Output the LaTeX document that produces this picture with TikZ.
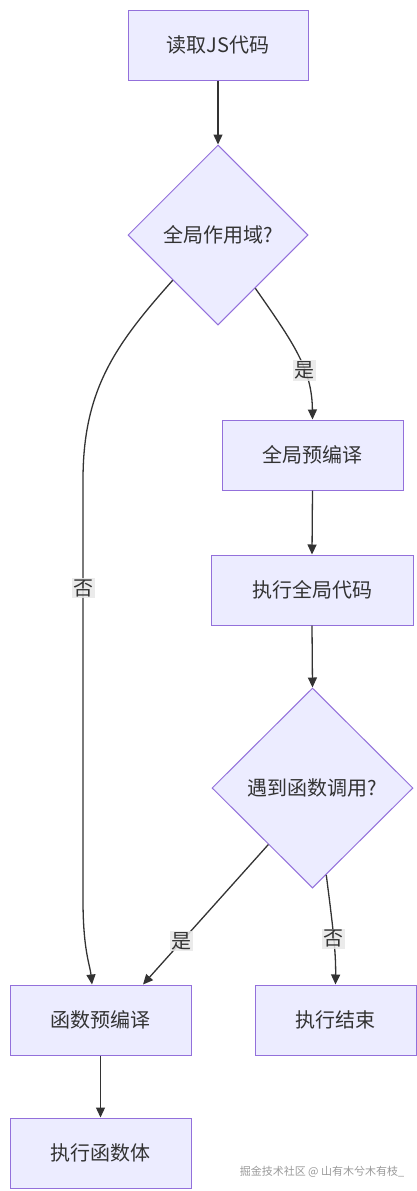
\documentclass[tikz,border=0pt]{standalone}
\usepackage{fontspec}
\setmainfont{Noto Sans CJK SC}
\usetikzlibrary{shapes.geometric,arrows.meta}
\definecolor{nodefill}{HTML}{ECECFF}
\definecolor{nodeborder}{HTML}{9370DB}
\definecolor{edgecol}{HTML}{333333}
\definecolor{lblbg}{HTML}{E8E8E8}
\tikzset{
  box/.style={draw=nodeborder, fill=nodefill, line width=1pt, rectangle, minimum height=70pt, inner sep=0pt, text=edgecol, font=\fontsize{20pt}{22pt}\selectfont},
  decision/.style={draw=nodeborder, fill=nodefill, line width=1pt, diamond, aspect=1, inner sep=0pt, text=edgecol, font=\fontsize{20pt}{22pt}\selectfont},
  conn/.style={draw=edgecol, line width=1.3pt, -{Triangle[length=10pt,width=9pt]}},
  lbl/.style={fill=lblbg, fill opacity=0.85, text opacity=1, text=edgecol, inner sep=1.5pt, font=\fontsize{20pt}{22pt}\selectfont}
}
\begin{document}
\begin{tikzpicture}[x=1pt,y=-1pt]
\useasboundingbox (0,0) rectangle (416,1191);
\node[box, minimum width=180pt] (read) at (218,45) {读取JS代码};
\node[decision, minimum width=180pt, minimum height=180pt] (d1) at (218,235) {全局作用域?};
\node[box, minimum width=181pt] (gpre) at (312.5,455) {全局预编译};
\node[box, minimum width=202pt] (gexe) at (312,590) {执行全局代码};
\node[decision, minimum width=201pt, minimum height=200pt] (d2) at (312.5,788) {遇到函数调用?};
\node[box, minimum width=181pt] (fpre) at (100.5,1020) {函数预编译};
\node[box, minimum width=161pt] (endn) at (335.5,1020) {执行结束};
\node[box, minimum width=181pt] (fbody) at (100.5,1153) {执行函数体};
\node[text=gray!80, font=\fontsize{11pt}{13pt}\selectfont] (wm) at (322,1172) {掘金技术社区 @ 山有木兮木有枝\_};

\draw[conn] (read.south) -- (d1.north);
\draw[conn] (d1.-55) .. controls (295,345) and (312,370) .. (gpre.north)
  node[pos=0.62, lbl] (ly1) {是};
\draw[conn] (d1.south west) .. controls (115,345) and (83,390) .. (83,480)
  -- (83,900) .. controls (83,950) and (90,965) .. ([xshift=-8.5pt]fpre.north);
\node[lbl] (ln1) at (83,588) {否};
\draw[conn] (gpre.south) -- (gexe.north);
\draw[conn] (gexe.south) -- (d2.north);
\draw[conn] (d2.-128) -- ([xshift=42.5pt]fpre.north) node[pos=0.69, lbl] (ly2) {是};
\draw[conn] (d2.-81) .. controls (332,920) and (336,950) .. (endn.north) node[pos=0.55, lbl] (ln2) {否};
\draw[conn] (fpre.south) -- (fbody.north);
\end{tikzpicture}
\end{document}
